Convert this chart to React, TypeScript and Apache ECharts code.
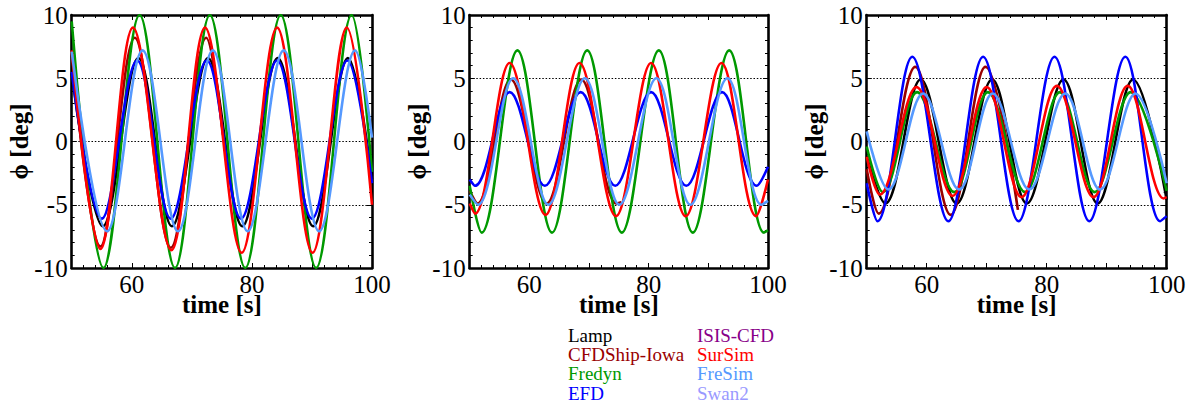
import React, { useEffect, useRef } from "react";
import * as echarts from "echarts";

// ---- Categories / legend ----
const METHODS = ["Lamp", "CFDShip-Iowa", "Fredyn", "EFD", "ISIS-CFD", "SurSim", "FreSim", "Swan2"];
const METHOD_COLORS = ["#000000", "#990000", "#009900", "#0000ff", "#880088", "#ff0000", "#5599ff", "#9999ff"];

// ---- Axes ----
const TIME_MIN = 50;
const TIME_MAX = 100;
const TIME_LABELS = [60, 80, 100];
const PHI_MIN = -10;
const PHI_MAX = 10;
const X_NAME = "time [s]";
const Y_NAME = "ϕ [deg]";

// ---- Panel 1 data: [time s, phi deg] (start, extrema, end) ----
const p1Lamp = [[50, 5.4], [55.2, -6.7], [61.1, 6.6], [66.7, -6.7], [72.7, 6.6], [78.4, -6.7], [84.3, 6.6], [90.2, -6.7], [96.0, 6.6], [100, -3.0]];
const p1CFDShip = [[50, 7.0], [54.8, -8.3], [60.5, 8.2], [66.5, -8.4], [72.4, 8.2], [75.2, 0.5]];
const p1Fredyn = [[50, 9.5], [55.3, -10], [61.3, 10], [67.2, -10], [73.0, 10], [78.9, -10], [84.8, 10], [90.7, -10], [96.6, 10], [100, -2.4]];
const p1EFD = [[50, 5.5], [55.0, -6.1], [60.9, 6.4], [66.5, -6.1], [72.5, 6.4], [78.2, -6.1], [84.2, 6.4], [90.0, -6.1], [95.9, 6.4], [100, -3.3]];
const p1SurSim = [[50, 7.2], [54.8, -8.5], [60.2, 9.0], [66.6, -8.6], [72.2, 9.0], [78.3, -8.8], [84.2, 9.0], [90.1, -8.8], [95.8, 9.0], [100, -5.0]];
const p1FreSim = [[50, 7.1], [55.9, -7.1], [61.8, 7.2], [67.7, -7.1], [73.5, 7.2], [79.3, -7.1], [85.3, 7.2], [91.2, -7.1], [97.2, 7.2], [100, 0.3]];

// ---- Panel 2 data ----
const p2CFDShip = [[50, -3.9], [51.3, -4.9], [56.9, 4.9], [62.9, -4.9], [68.7, 4.9], [74.6, -4.9], [75.4, -4.8]];
const p2Fredyn = [[50, -3.5], [52.0, -7.2], [58.0, 7.2], [63.8, -7.2], [69.7, 7.2], [75.5, -7.2], [81.7, 7.2], [87.4, -7.2], [93.5, 7.2], [99.3, -7.2], [100, -7.0]];
const p2EFD = [[50, -3.0], [50.9, -3.5], [56.7, 3.9], [62.6, -3.5], [68.6, 3.9], [74.4, -3.5], [80.4, 3.9], [86.3, -3.5], [92.3, 3.9], [98.1, -3.5], [100, -2.0]];
const p2SurSim = [[50, -4.9], [50.9, -5.7], [56.7, 6.2], [62.7, -5.8], [68.4, 6.2], [74.5, -5.9], [80.4, 6.2], [86.2, -5.9], [92.2, 6.2], [98.0, -5.9], [100, -3.0]];
const p2FreSim = [[50, -4.2], [51.4, -5.0], [57.3, 5.0], [63.2, -5.0], [69.3, 5.0], [75.1, -5.0], [81.3, 5.0], [87.0, -5.0], [93.2, 5.0], [98.9, -5.0], [100, -4.7]];

// ---- Panel 3 data ----
const p3Lamp = [[50, -1.2], [53.1, -4.9], [59.0, 4.9], [65.0, -4.9], [70.9, 4.9], [76.7, -4.9], [82.8, 4.9], [88.5, -4.9], [94.4, 4.9], [100, -4.6]];
const p3CFDShip = [[50, -2.2], [52.0, -5.7], [58.1, 5.9], [64.0, -5.8], [69.8, 5.9], [75.2, -5.4]];
const p3Fredyn = [[50, -0.4], [52.7, -4.0], [58.4, 3.9], [64.6, -4.0], [70.2, 3.9], [76.4, -4.0], [82.2, 3.9], [88.0, -4.0], [94.0, 3.9], [100, -3.9]];
const p3EFD = [[50, -3.3], [51.8, -6.3], [57.6, 6.7], [63.6, -6.3], [69.4, 6.7], [75.3, -6.3], [81.3, 6.7], [87.1, -6.3], [93.1, 6.7], [98.9, -6.3], [100, -5.9]];
const p3SurSim = [[50, -1.2], [52.2, -4.2], [58.3, 4.3], [64.3, -4.3], [70.0, 4.3], [75.8, -4.4], [81.7, 4.4], [87.8, -4.4], [93.5, 4.4], [99.5, -4.5], [100, -4.4]];
const p3FreSim = [[50, 0.8], [53.6, -3.8], [59.4, 3.8], [65.4, -3.8], [71.0, 3.8], [77.1, -3.8], [83.1, 3.8], [88.9, -3.8], [94.8, 3.8], [100, -3.3]];

const PANEL_DATA: Record<string, number[][]>[] = [
  { Lamp: p1Lamp, "CFDShip-Iowa": p1CFDShip, Fredyn: p1Fredyn, EFD: p1EFD, SurSim: p1SurSim, FreSim: p1FreSim },
  { "CFDShip-Iowa": p2CFDShip, Fredyn: p2Fredyn, EFD: p2EFD, SurSim: p2SurSim, FreSim: p2FreSim },
  { Lamp: p3Lamp, "CFDShip-Iowa": p3CFDShip, Fredyn: p3Fredyn, EFD: p3EFD, SurSim: p3SurSim, FreSim: p3FreSim },
];

// ---- Layout (pixels) ----
const GRID_LEFTS = [71.7, 469.7, 866.7];
const GRID_WIDTHS = [300.3, 298.3, 300];
const GRID_TOP = 15;
const GRID_HEIGHT = 253;
const FONT = "'Liberation Serif', 'Times New Roman', Times, serif";

function buildOption() {
  const grid: any[] = [];
  const xAxis: any[] = [];
  const yAxis: any[] = [];
  const series: any[] = [];
  const frame = { show: true, onZero: false, lineStyle: { color: "#000", width: 2.6 } };
  const tick = { show: true, inside: true, length: 5, lineStyle: { color: "#000", width: 1 } };
  const minor = (n: number) => ({ show: true, splitNumber: n, length: 3, lineStyle: { color: "#000", width: 1 } });

  PANEL_DATA.forEach((panel, i) => {
    grid.push({
      left: GRID_LEFTS[i], top: GRID_TOP, width: GRID_WIDTHS[i], height: GRID_HEIGHT,
      containLabel: false, outerBoundsMode: "none", show: false,
    });
    const xBase = { type: "value", gridIndex: i, min: TIME_MIN, max: TIME_MAX, interval: 10, axisLine: frame, axisTick: tick, minorTick: minor(5), splitLine: { show: false } };
    xAxis.push({
      ...xBase, position: "bottom",
      axisLabel: {
        show: true, margin: 7.5, fontSize: 25, lineHeight: 18, fontFamily: FONT, color: "#000",
        showMinLabel: true, showMaxLabel: true,
        formatter: (v: number) => (TIME_LABELS.indexOf(v) >= 0 ? String(v) : ""),
      },
      name: X_NAME, nameLocation: "middle", nameGap: 26.5, nameMoveOverlap: false,
      nameTextStyle: { fontSize: 25, lineHeight: 20, fontWeight: "bold", fontFamily: FONT, color: "#000" },
    });
    xAxis.push({ ...xBase, position: "top", axisLabel: { show: false } });
    const yBase = { type: "value", gridIndex: i, min: PHI_MIN, max: PHI_MAX, interval: 5, axisLine: frame, axisTick: tick, minorTick: minor(5) };
    yAxis.push({
      ...yBase, position: "left",
      axisLabel: { show: true, margin: 4, fontSize: 25, fontFamily: FONT, color: "#000", showMinLabel: true, showMaxLabel: true },
      splitLine: { show: true, lineStyle: { color: "#000", width: 1.2, type: [1.5, 1.8] } },
      name: Y_NAME, nameLocation: "middle", nameGap: 40, nameRotate: 90, nameMoveOverlap: false,
      nameTextStyle: { fontSize: 25, fontWeight: "bold", fontFamily: FONT, color: "#000" },
    });
    yAxis.push({ ...yBase, position: "right", axisLabel: { show: false }, splitLine: { show: false } });

    METHODS.forEach((m, k) => {
      const d = panel[m];
      if (!d) return;
      series.push({
        type: "line", name: m, xAxisIndex: 2 * i, yAxisIndex: 2 * i,
        data: d, smooth: 0.36, symbol: "none", showSymbol: false,
        lineStyle: { color: METHOD_COLORS[k], width: 2.6 }, itemStyle: { color: METHOD_COLORS[k] },
        z: 2, clip: true,
      });
    });
  });

  // legend as coloured text (two columns)
  const graphic: any[] = METHODS.map((m, k) => ({
    type: "text",
    left: k < 4 ? 568 : 697,
    top: 326 + (k % 4) * 19.2,
    style: { text: m, fill: METHOD_COLORS[k], font: `19px ${FONT}` },
  }));

  return { animation: false, backgroundColor: "#fff", grid, xAxis, yAxis, series, graphic };
}

export default function App() {
  const ref = useRef<HTMLDivElement>(null);
  useEffect(() => {
    if (!ref.current) return;
    const chart = echarts.init(ref.current, null, { renderer: "svg" });
    chart.setOption(buildOption() as any);
    return () => chart.dispose();
  }, []);
  return <div ref={ref} style={{ position: "fixed", left: 0, top: 0, width: 1191, height: 405, background: "#fff" }} />;
}
